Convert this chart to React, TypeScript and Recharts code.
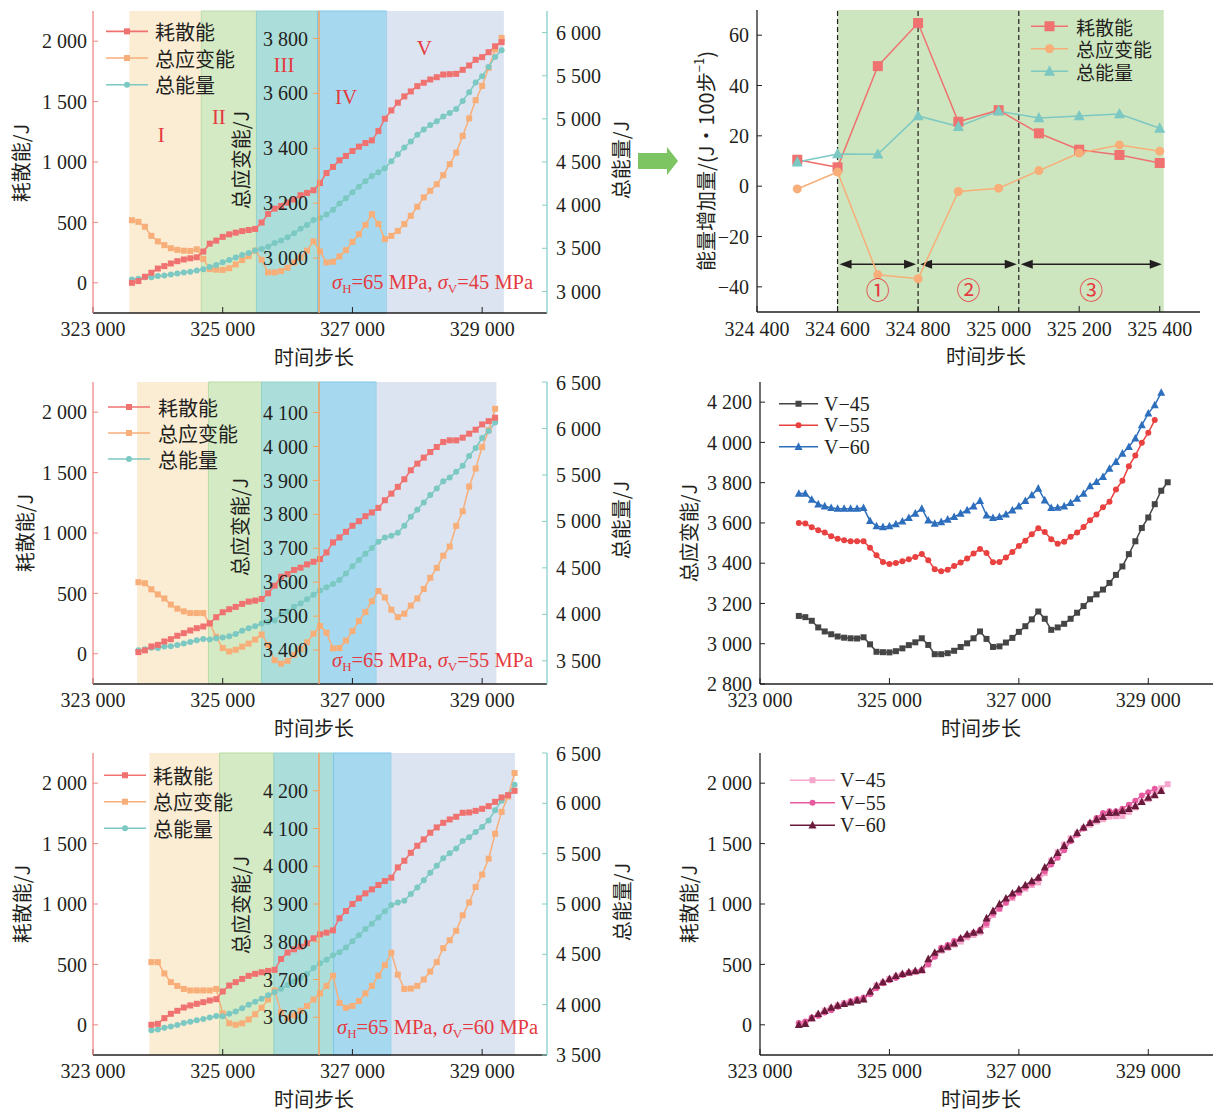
import React from "react";
import {
  ComposedChart,
  LineChart,
  Line,
  XAxis,
  YAxis,
  ReferenceArea,
  ReferenceLine,
  ReferenceDot,
} from "recharts";

const SERIF = '"Liberation Serif", "Noto Sans CJK SC", serif';
const CJK = '"Noto Sans CJK SC", "Liberation Serif", sans-serif';
const INK = "#231f20";
const NOTE = "#e53a3f";
const RED = "#ef7270";
const ORANGE = "#f8ae78";
const TEAL = "#7cc8c2";
const STRAIN_AXIS = "#f6a35f";
const LEFT_AXIS = "#f08686";
const RIGHT_AXIS = "#86d0c9";

// ---------- data ----------
// first step of each left-hand panel (V-45, V-55, V-60); right-hand panels all start at compareStart
const stepStarts = [323600, 323700, 323900];
const compareStart = 323600;

const diss45 = [0, 14, 50, 83, 118, 138, 160, 179, 193, 203, 211, 259, 324, 349, 380, 401, 415, 428, 437, 446, 499, 570, 614, 636, 664, 689, 725, 744, 766, 826, 909, 959, 1014, 1050, 1091, 1127, 1157, 1179, 1256, 1358, 1427, 1491, 1543, 1584, 1628, 1656, 1683, 1702, 1724, 1727, 1730, 1763, 1799, 1846, 1868, 1909, 1958, 1992];
const strain45 = [3138, 3132, 3114, 3081, 3061, 3047, 3036, 3030, 3027, 3026, 3032, 2997, 2960, 2958, 2957, 2963, 2977, 2993, 3007, 3027, 2994, 2948, 2948, 2953, 2965, 2984, 3002, 3027, 3061, 3024, 2984, 2987, 3006, 3029, 3059, 3087, 3121, 3160, 3124, 3069, 3081, 3099, 3124, 3154, 3187, 3221, 3245, 3269, 3302, 3342, 3384, 3445, 3509, 3575, 3627, 3693, 3760, 3802];
const total45 = [3138, 3146, 3164, 3164, 3179, 3185, 3196, 3209, 3220, 3229, 3243, 3256, 3284, 3307, 3337, 3364, 3392, 3421, 3444, 3473, 3493, 3518, 3562, 3589, 3629, 3673, 3727, 3771, 3827, 3850, 3893, 3946, 4020, 4079, 4150, 4214, 4278, 4339, 4380, 4427, 4508, 4590, 4667, 4738, 4815, 4877, 4928, 4971, 5026, 5069, 5114, 5208, 5308, 5421, 5495, 5602, 5718, 5794];

const diss55 = [14, 28, 61, 74, 102, 121, 149, 171, 193, 212, 226, 253, 303, 344, 369, 388, 413, 432, 440, 454, 501, 564, 638, 660, 694, 713, 740, 762, 784, 839, 922, 963, 1010, 1060, 1098, 1139, 1170, 1208, 1271, 1326, 1382, 1445, 1519, 1574, 1624, 1670, 1712, 1753, 1767, 1767, 1789, 1822, 1855, 1899, 1926, 1954];
const strain55 = [3600, 3597, 3579, 3564, 3552, 3534, 3522, 3514, 3509, 3509, 3509, 3477, 3439, 3406, 3396, 3401, 3410, 3419, 3431, 3446, 3415, 3370, 3360, 3368, 3386, 3403, 3423, 3448, 3471, 3451, 3405, 3406, 3428, 3456, 3486, 3512, 3544, 3574, 3555, 3519, 3497, 3507, 3531, 3552, 3580, 3613, 3642, 3678, 3705, 3766, 3809, 3882, 3935, 3998, 4048, 4111];
const total55 = [3614, 3625, 3640, 3638, 3654, 3655, 3671, 3685, 3702, 3721, 3735, 3730, 3742, 3750, 3765, 3789, 3823, 3851, 3871, 3900, 3916, 3934, 3998, 4028, 4080, 4116, 4163, 4210, 4255, 4290, 4327, 4369, 4438, 4516, 4584, 4651, 4714, 4782, 4826, 4845, 4879, 4952, 5050, 5126, 5204, 5283, 5354, 5431, 5472, 5533, 5598, 5704, 5790, 5897, 5974, 6065];

const diss60 = [0, 8, 55, 91, 116, 143, 160, 174, 187, 201, 212, 276, 325, 353, 380, 405, 422, 435, 446, 455, 545, 598, 625, 647, 675, 716, 749, 763, 782, 882, 942, 1000, 1047, 1088, 1121, 1157, 1190, 1218, 1303, 1358, 1424, 1482, 1535, 1590, 1634, 1672, 1700, 1722, 1755, 1758, 1771, 1788, 1810, 1846, 1882, 1901, 1937];
const strain60 = [3746, 3746, 3716, 3693, 3683, 3675, 3671, 3671, 3671, 3671, 3675, 3610, 3584, 3580, 3584, 3594, 3608, 3625, 3647, 3671, 3613, 3597, 3605, 3617, 3630, 3647, 3663, 3683, 3710, 3638, 3625, 3630, 3643, 3663, 3683, 3710, 3738, 3771, 3713, 3675, 3676, 3683, 3700, 3721, 3746, 3783, 3804, 3829, 3870, 3904, 3945, 3978, 4020, 4086, 4144, 4185, 4247];
const total60 = [3746, 3754, 3771, 3784, 3799, 3818, 3831, 3845, 3858, 3872, 3887, 3886, 3909, 3933, 3964, 3999, 4030, 4060, 4093, 4126, 4158, 4195, 4230, 4264, 4305, 4363, 4412, 4446, 4492, 4520, 4567, 4630, 4690, 4751, 4804, 4867, 4928, 4989, 5016, 5033, 5100, 5165, 5235, 5311, 5380, 5455, 5504, 5551, 5625, 5662, 5716, 5766, 5830, 5932, 6026, 6086, 6184];

// stage boundaries (I..V) for each left panel
const stages45 = [323560, 324670, 325520, 326462, 327528, 329335];
const stages55 = [323680, 324780, 325600, 326490, 327370, 329220];
const stages60 = [323870, 324950, 325790, 326710, 327600, 329505];
const stageNames = ["I", "II", "III", "IV", "V"];

const stepTicks = [323000, 325000, 327000, 329000];
const dissTicks = [0, 500, 1000, 1500, 2000];
const strainTicks45 = [3000, 3200, 3400, 3600, 3800];
const strainTicks55 = [3400, 3500, 3600, 3700, 3800, 3900, 4000, 4100];
const strainTicks60 = [3600, 3700, 3800, 3900, 4000, 4100, 4200];
const totalTicks45 = [3000, 3500, 4000, 4500, 5000, 5500, 6000];
const totalTicks55 = [3500, 4000, 4500, 5000, 5500, 6000, 6500];
const totalTicks60 = [3500, 4000, 4500, 5000, 5500, 6000, 6500];
const compareStrainTicks = [2800, 3000, 3200, 3400, 3600, 3800, 4000, 4200];

// energy increase per 100 steps (V-45)
const incSteps = [324500, 324600, 324700, 324800, 324900, 325000, 325100, 325200, 325300, 325400];
const incDiss = [10.5, 7.5, 47.7, 64.8, 25.6, 30.2, 21, 14.5, 12.4, 9.2];
const incStrain = [-1.1, 5.6, -35.2, -36.8, -2.1, -0.8, 6.2, 13.2, 16.4, 13.9];
const incTotal = [9.6, 12.8, 12.7, 27.9, 23.7, 29.8, 27.1, 27.9, 28.7, 23.0];
const incBounds = [324600, 324800, 325050, 325410];
const incTicks = [324400, 324600, 324800, 325000, 325200, 325400];
const incYTicks = [-40, -20, 0, 20, 40, 60];
const phaseNames = ["①", "②", "③"];

// ---------- helpers ----------
type Row = { step: number; diss: number; strain: number; total: number };
const rowsOf = (start: number, diss: number[], strain: number[], total: number[]): Row[] =>
  diss.map((d, i) => ({ step: start + i * 100, diss: d, strain: strain[i], total: total[i] }));
const seriesOf = (start: number, vals: number[]) => vals.map((v, i) => ({ step: start + i * 100, v }));

const fmt = (v: number) => {
  const s = Math.abs(v).toString().replace(/\B(?=(\d{3})+(?!\d))/g, " ");
  return v < 0 ? "\u2212" + s : s;
};

type Shape = "square" | "circle" | "triangle";
const marker = (shape: Shape, cx: number, cy: number, size: number, color: string) => {
  if (shape === "square")
    return <rect x={cx - size / 2} y={cy - size / 2} width={size} height={size} fill={color} />;
  if (shape === "circle") return <circle cx={cx} cy={cy} r={size / 2} fill={color} />;
  return (
    <polygon
      points={`${cx},${cy - size * 0.55} ${cx - size / 2},${cy + size * 0.4} ${cx + size / 2},${cy + size * 0.4}`}
      fill={color}
    />
  );
};
const dotOf = (shape: Shape, size: number, color: string) => (p: any) => (
  <g key={`d-${p.index}`}>{p.cx == null || p.cy == null ? null : marker(shape, p.cx, p.cy, size, color)}</g>
);

const vTitle = (text: React.ReactNode, x: number, y: number) => () => (
  <text x={x} y={y} transform={`rotate(-90 ${x} ${y})`} textAnchor="middle" dominantBaseline="central"
    fill={INK} fontSize={20} fontFamily={CJK}>{text}</text>
);
const hTitle = (text: string, x: number, y: number) => () => (
  <text x={x} y={y} textAnchor="middle" dominantBaseline="central" fill={INK} fontSize={20} fontFamily={CJK}>
    {text}
  </text>
);
const tickStyle = { fill: INK, fontSize: 20, fontFamily: SERIF };

type Item = { name: string; color: string; shape: Shape; size: number };
function KeyBox({ left, top, items, line, gap, row, font, size = 20 }: {
  left: number; top: number; items: Item[]; line: number; gap: number; row: number; font: string; size?: number;
}) {
  return (
    <svg style={{ position: "absolute", left, top, overflow: "visible" }} width={line + gap + 110} height={row * items.length}>
      {items.map((it, i) => {
        const y = row * i + row / 2;
        return (
          <g key={it.name}>
            <line x1={0} x2={line} y1={y} y2={y} stroke={it.color} strokeWidth={1.6} />
            {marker(it.shape, line / 2, y, it.size, it.color)}
            <text x={line + gap} y={y} dominantBaseline="central" fontSize={size} fontFamily={font} fill={INK}>{it.name}</text>
          </g>
        );
      })}
    </svg>
  );
}

const energyKeys: Item[] = [
  { name: "耗散能", color: RED, shape: "square", size: 6 },
  { name: "总应变能", color: ORANGE, shape: "square", size: 6 },
  { name: "总能量", color: TEAL, shape: "circle", size: 6 },
];

const STAGE_FILLS = ["#fbedd4", "#d3eac4", "#abdedb", "#a6d9ef", "#dbe4f0"];
const STAGE_EDGES = ["none", "#b9dba6", "#93d2cc", "#7cc5e6", "none"];
const romanSpots = [[-4, 135], [-10, 117], [-3, 65], [-6, 97], [-21, 48]];

const romanAt = (text: string, dx: number, y: number) => (p: any) => {
  const vb = p.viewBox || { x: 0, width: 0 };
  return (
    <text x={vb.x + vb.width / 2 + dx} y={y} textAnchor="middle" dominantBaseline="central"
      fill={NOTE} fontSize={21} fontFamily={SERIF}>{text}</text>
  );
};

type LeftCfg = {
  top: number; rows: Row[]; stages: number[];
  strainDomain: [number, number]; strainTicks: number[];
  totalDomain: [number, number]; totalTicks: number[];
  leftT: [number, number]; rightT: [number, number]; innerT: [number, number];
  romans: boolean;
};

const STEP_DOMAIN: [number, number] = [323000, 330000];
const DISS_DOMAIN: [number, number] = [-250, 2250];

function EnergyPanel({ cfg }: { cfg: LeftCfg }) {
  const { rows } = cfg;
  return (
    <div style={{ position: "absolute", left: 0, top: cfg.top }}>
      <ComposedChart width={640} height={370} data={rows} margin={{ top: 11, right: 0, bottom: 0, left: 0 }}>
        <XAxis xAxisId="b" dataKey="step" type="number" domain={STEP_DOMAIN} ticks={stepTicks}
          tickFormatter={fmt} height={57} tickSize={-6} tickMargin={15}
          axisLine={{ stroke: INK, strokeWidth: 1.3 }} tickLine={{ stroke: INK }} tick={tickStyle}
          label={hTitle("时间步长", 314, 356)} />
        <XAxis xAxisId="t" dataKey="step" type="number" domain={STEP_DOMAIN} orientation="top" height={0}
          tick={false} tickLine={false} axisLine={{ stroke: INK, strokeWidth: 1.3 }} />
        <YAxis yAxisId="l" type="number" domain={DISS_DOMAIN} ticks={dissTicks} tickFormatter={fmt}
          width={93} tickSize={-5} tickMargin={11} axisLine={{ stroke: LEFT_AXIS, strokeWidth: 1.3 }}
          tickLine={{ stroke: LEFT_AXIS }} tick={tickStyle} label={vTitle("耗散能/J", cfg.leftT[0], cfg.leftT[1])} />
        <YAxis yAxisId="r" orientation="right" type="number" domain={cfg.totalDomain} ticks={cfg.totalTicks}
          tickFormatter={fmt} width={93} tickSize={-5} tickMargin={14}
          axisLine={{ stroke: RIGHT_AXIS, strokeWidth: 1.3 }} tickLine={{ stroke: RIGHT_AXIS }} tick={tickStyle}
          label={vTitle("总能量/J", cfg.rightT[0], cfg.rightT[1])} />
        <YAxis yAxisId="s" hide type="number" domain={cfg.strainDomain} />
        {stageNames.map((name, i) => (
          <ReferenceArea key={name} xAxisId="b" yAxisId="l" x1={cfg.stages[i]} x2={cfg.stages[i + 1]}
            fill={STAGE_FILLS[i]} fillOpacity={1} stroke={STAGE_EDGES[i]} strokeWidth={1}
            label={cfg.romans ? romanAt(name, romanSpots[i][0], romanSpots[i][1]) : undefined} />
        ))}
        <Line xAxisId="b" yAxisId="s" dataKey="strain" stroke={ORANGE} strokeWidth={1.5}
          dot={dotOf("square", 6, ORANGE)} activeDot={false} isAnimationActive={false} />
        <Line xAxisId="b" yAxisId="r" dataKey="total" stroke={TEAL} strokeWidth={1.5}
          dot={dotOf("circle", 6, TEAL)} activeDot={false} isAnimationActive={false} />
        <Line xAxisId="b" yAxisId="l" dataKey="diss" stroke={RED} strokeWidth={1.5}
          dot={dotOf("square", 6, RED)} activeDot={false} isAnimationActive={false} />
      </ComposedChart>
      <div style={{ position: "absolute", left: 0, top: 0 }}>
        <LineChart width={330} height={370} data={rows} margin={{ top: 11, right: 0, bottom: 57, left: 0 }}>
          <XAxis dataKey="step" type="number" domain={STEP_DOMAIN} hide />
          <YAxis type="number" domain={cfg.strainDomain} ticks={cfg.strainTicks} tickFormatter={fmt} width={319}
            tickSize={6} tickMargin={5} axisLine={{ stroke: STRAIN_AXIS, strokeWidth: 1.5 }}
            tickLine={{ stroke: STRAIN_AXIS }} tick={tickStyle}
            label={vTitle("总应变能/J", cfg.innerT[0], cfg.innerT[1])} />
          <Line dataKey="strain" stroke="none" dot={false} activeDot={false} isAnimationActive={false} />
        </LineChart>
      </div>
    </div>
  );
}

function Sigma({ left, top, v }: { left: number; top: number; v: string }) {
  const sub = { fontSize: 13, verticalAlign: "-4px" } as React.CSSProperties;
  return (
    <div style={{ position: "absolute", left, top, color: NOTE, fontFamily: SERIF, fontSize: 20.5, lineHeight: "24px", whiteSpace: "nowrap" }}>
      <i>σ</i><span style={sub}>H</span>=65 MPa, <i>σ</i><span style={sub}>V</span>={v} MPa
    </div>
  );
}

const arrowShape = (p: any) => {
  const a = p.x1 + 2;
  const b = p.x2 - 2;
  const y = p.y1;
  return (
    <g>
      <line x1={a + 8} y1={y} x2={b - 8} y2={y} stroke={INK} strokeWidth={1.5} />
      <polygon points={`${a},${y} ${a + 12},${y - 4.5} ${a + 12},${y + 4.5}`} fill={INK} />
      <polygon points={`${b},${y} ${b - 12},${y - 4.5} ${b - 12},${y + 4.5}`} fill={INK} />
    </g>
  );
};

function IncrementPanel() {
  const rows = incSteps.map((s, i) => ({ step: s, diss: incDiss[i], strain: incStrain[i], total: incTotal[i] }));
  const phaseMid = phaseNames.map((_, i) => (incBounds[i] + incBounds[i + 1]) / 2);
  return (
    <div style={{ position: "absolute", left: 660, top: 0 }}>
      <LineChart width={556} height={370} data={rows} margin={{ top: 10, right: 16, bottom: 0, left: 0 }}>
        <XAxis dataKey="step" type="number" domain={[324400, 325500]} ticks={incTicks} tickFormatter={fmt}
          height={58} tickSize={-6} tickMargin={16} axisLine={{ stroke: INK, strokeWidth: 1.3 }}
          tickLine={{ stroke: INK }} tick={tickStyle} label={hTitle("时间步长", 326, 355)} />
        <XAxis xAxisId="t" dataKey="step" type="number" domain={[324400, 325500]} orientation="top" height={0}
          tick={false} tickLine={false} axisLine={{ stroke: INK, strokeWidth: 1.3 }} />
        <YAxis type="number" domain={[-50, 70]} ticks={incYTicks} tickFormatter={fmt} width={97}
          tickSize={-5} tickMargin={13} axisLine={{ stroke: INK, strokeWidth: 1.3 }} tickLine={{ stroke: INK }}
          tick={tickStyle}
          label={vTitle(<>能量增加量/(J·100步<tspan dy={-7} fontSize={13}>−1</tspan><tspan dy={7}>)</tspan></>, 45, 161)} />
        <YAxis yAxisId="f" orientation="right" domain={[0, 1]} width={0} tick={false} tickLine={false}
          axisLine={{ stroke: INK, strokeWidth: 1.3 }} />
        <ReferenceArea x1={incBounds[0]} x2={incBounds[3]} fill="#cde6bf" fillOpacity={1} stroke="none" />
        {incBounds.slice(0, 3).map((b) => (
          <ReferenceLine key={b} x={b} stroke={INK} strokeWidth={1.2} strokeDasharray="5 3" />
        ))}
        {phaseNames.map((n, i) => (
          <ReferenceLine key={`a${n}`} segment={[{ x: incBounds[i], y: -31 }, { x: incBounds[i + 1], y: -31 }]}
            shape={arrowShape} />
        ))}
        {phaseNames.map((n, i) => (
          <ReferenceDot key={`p${n}`} x={phaseMid[i]} y={-41.5} r={0} fill="none" stroke="none"
            label={{ value: n, position: "center", fill: NOTE, fontSize: 24, fontFamily: CJK }} />
        ))}
        <Line dataKey="diss" stroke={RED} strokeWidth={1.5} dot={dotOf("square", 10, RED)} activeDot={false} isAnimationActive={false} />
        <Line dataKey="strain" stroke={ORANGE} strokeWidth={1.5} dot={dotOf("circle", 9, ORANGE)} activeDot={false} isAnimationActive={false} />
        <Line dataKey="total" stroke={TEAL} strokeWidth={1.5} dot={dotOf("triangle", 11, TEAL)} activeDot={false} isAnimationActive={false} />
      </LineChart>
    </div>
  );
}

type CmpSeries = { name: string; vals: number[]; color: string; shape: Shape; size: number };
function ComparePanel({ top, series, domain, ticks, title }: {
  top: number; series: CmpSeries[]; domain: [number, number]; ticks: number[]; title: string;
}) {
  return (
    <div style={{ position: "absolute", left: 660, top }}>
      <LineChart width={556} height={370} margin={{ top: 11, right: 3, bottom: 0, left: 0 }}>
        <XAxis dataKey="step" type="number" domain={STEP_DOMAIN} ticks={stepTicks} tickFormatter={fmt}
          height={57} tickSize={-6} tickMargin={15} axisLine={{ stroke: INK, strokeWidth: 1.3 }}
          tickLine={{ stroke: INK }} tick={tickStyle} label={hTitle("时间步长", 321, 356)} allowDuplicatedCategory={false} />
        <XAxis xAxisId="t" dataKey="step" type="number" domain={STEP_DOMAIN} orientation="top" height={0}
          tick={false} tickLine={false} axisLine={{ stroke: INK, strokeWidth: 1.3 }} />
        <YAxis type="number" domain={domain} ticks={ticks} tickFormatter={fmt} width={100}
          tickSize={-5} tickMargin={13} axisLine={{ stroke: INK, strokeWidth: 1.3 }} tickLine={{ stroke: INK }}
          tick={tickStyle} label={vTitle(title, 28, 162)} />
        <YAxis yAxisId="f" orientation="right" domain={[0, 1]} width={0} tick={false} tickLine={false}
          axisLine={{ stroke: INK, strokeWidth: 1.3 }} />
        {series.map((s) => (
          <Line key={s.name} data={seriesOf(compareStart, s.vals)} dataKey="v" stroke={s.color} strokeWidth={1.5}
            dot={dotOf(s.shape, s.size, s.color)} activeDot={false} isAnimationActive={false} />
        ))}
      </LineChart>
    </div>
  );
}

export default function App() {
  const panels: LeftCfg[] = [
    {
      top: 0, rows: rowsOf(stepStarts[0], diss45, strain45, total45), stages: stages45,
      strainDomain: [2800, 3900], strainTicks: strainTicks45, totalDomain: [2750, 6250], totalTicks: totalTicks45,
      leftT: [20, 163], rightT: [620, 160], innerT: [240, 160], romans: true,
    },
    {
      top: 371, rows: rowsOf(stepStarts[1], diss55, strain55, total55), stages: stages55,
      strainDomain: [3300, 4190], strainTicks: strainTicks55, totalDomain: [3250, 6500], totalTicks: totalTicks55,
      leftT: [24, 162], rightT: [620, 149], innerT: [239, 156], romans: false,
    },
    {
      top: 742, rows: rowsOf(stepStarts[2], diss60, strain60, total60), stages: stages60,
      strainDomain: [3500, 4300], strainTicks: strainTicks60, totalDomain: [3500, 6500], totalTicks: totalTicks60,
      leftT: [21, 162], rightT: [621, 160], innerT: [240, 163], romans: false,
    },
  ];
  const strainSeries: CmpSeries[] = [
    { name: "V−45", vals: strain45, color: "#454545", shape: "square", size: 6 },
    { name: "V−55", vals: strain55, color: "#e8413f", shape: "circle", size: 6 },
    { name: "V−60", vals: strain60, color: "#2e6fbd", shape: "triangle", size: 8 },
  ];
  const dissSeries: CmpSeries[] = [
    { name: "V−45", vals: diss45, color: "#f5a8cb", shape: "square", size: 6 },
    { name: "V−55", vals: diss55, color: "#e75a9f", shape: "circle", size: 6 },
    { name: "V−60", vals: diss60, color: "#6a1b3c", shape: "triangle", size: 8 },
  ];
  return (
    <div style={{ position: "absolute", left: 0, top: 0, width: 1216, height: 1113, background: "#fff", overflow: "hidden" }}>
      {panels.map((p) => <EnergyPanel key={p.top} cfg={p} />)}
      <KeyBox left={106} top={18} items={energyKeys} line={42} gap={7} row={26.7} font={CJK} />
      <KeyBox left={108} top={394} items={energyKeys} line={42} gap={8} row={26} font={CJK} />
      <KeyBox left={104} top={762} items={energyKeys} line={42} gap={7} row={26.5} font={CJK} />
      <Sigma left={332} top={270} v="45" />
      <Sigma left={332} top={648} v="55" />
      <Sigma left={337} top={1015} v="60" />
      <svg style={{ position: "absolute", left: 636, top: 145 }} width={46} height={34}>
        <polygon points="2,8 31,8 31,2 42,16 31,30 31,24 2,24" fill="#7dc462" />
      </svg>
      <IncrementPanel />
      <KeyBox left={1031} top={15} items={[
        { name: "耗散能", color: RED, shape: "square", size: 10 },
        { name: "总应变能", color: ORANGE, shape: "circle", size: 9 },
        { name: "总能量", color: TEAL, shape: "triangle", size: 11 },
      ]} line={37} gap={8} row={22.5} font={CJK} size={19} />
      <ComparePanel top={371} series={strainSeries} domain={[2800, 4300]} ticks={compareStrainTicks} title="总应变能/J" />
      <KeyBox left={779} top={393} items={strainSeries.map((s) => ({ name: s.name, color: s.color, shape: s.shape, size: s.size }))}
        line={39} gap={6} row={21.5} font={SERIF} />
      <ComparePanel top={742} series={dissSeries} domain={DISS_DOMAIN} ticks={dissTicks} title="耗散能/J" />
      <KeyBox left={790} top={769} items={dissSeries.map((s) => ({ name: s.name, color: s.color, shape: s.shape, size: s.size }))}
        line={45} gap={5} row={22.5} font={SERIF} />
    </div>
  );
}
